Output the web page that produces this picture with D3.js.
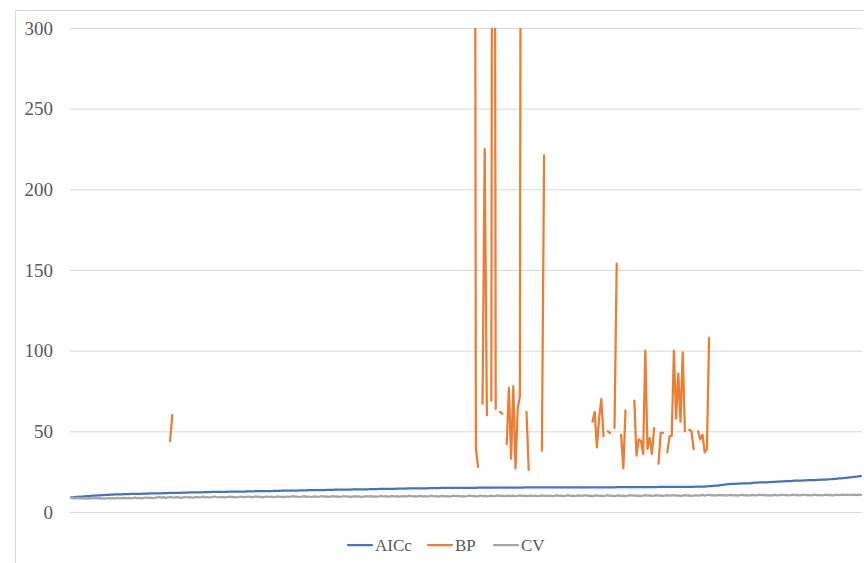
<!DOCTYPE html>
<html>
<head>
<meta charset="utf-8">
<script src="https://cdn.jsdelivr.net/npm/d3@7"></script>
<style>
  html, body { margin: 0; padding: 0; background: #ffffff; }
  svg { display: block; }
</style>
</head>
<body>
<svg id="chart" width="864" height="563"></svg>
<script>
// ---------------- DATA ----------------
const seriesNames = ["AICc", "BP", "CV"];
const seriesColors = ["#4472C4", "#ED7D31", "#A5A5A5"];
const yTicks = [0, 50, 100, 150, 200, 250, 300];
const pointCount = 360;

const aicc = [
  9.0, 9.1, 9.3, 9.4, 9.5, 9.6, 9.7, 9.8, 9.9, 10.0, 10.1, 10.2, 10.3, 10.3, 10.4, 10.5, 10.6, 10.6, 10.7, 10.8,
  10.9, 10.9, 11.0, 11.0, 11.1, 11.1, 11.1, 11.2, 11.2, 11.2, 11.3, 11.3, 11.3, 11.4, 11.4, 11.4, 11.5, 11.5, 11.5, 11.6,
  11.6, 11.6, 11.7, 11.7, 11.7, 11.8, 11.8, 11.8, 11.9, 11.9, 11.9, 12.0, 12.0, 12.0, 12.1, 12.1, 12.1, 12.2, 12.2, 12.2,
  12.3, 12.3, 12.3, 12.3, 12.4, 12.4, 12.4, 12.4, 12.5, 12.5, 12.5, 12.5, 12.6, 12.6, 12.6, 12.6, 12.7, 12.7, 12.7, 12.7,
  12.8, 12.8, 12.8, 12.8, 12.9, 12.9, 12.9, 12.9, 13.0, 13.0, 13.0, 13.0, 13.1, 13.1, 13.1, 13.1, 13.2, 13.2, 13.2, 13.2,
  13.3, 13.3, 13.3, 13.3, 13.4, 13.4, 13.4, 13.4, 13.5, 13.5, 13.5, 13.5, 13.6, 13.6, 13.6, 13.6, 13.7, 13.7, 13.7, 13.7,
  13.8, 13.8, 13.8, 13.8, 13.9, 13.9, 13.9, 13.9, 14.0, 14.0, 14.0, 14.0, 14.1, 14.1, 14.1, 14.1, 14.2, 14.2, 14.2, 14.2,
  14.3, 14.3, 14.3, 14.3, 14.4, 14.4, 14.4, 14.4, 14.5, 14.5, 14.5, 14.5, 14.5, 14.6, 14.6, 14.6, 14.6, 14.6, 14.7, 14.7,
  14.7, 14.7, 14.7, 14.8, 14.8, 14.8, 14.8, 14.8, 14.9, 14.9, 14.9, 14.9, 14.9, 14.9, 15.0, 15.0, 15.0, 15.0, 15.0, 15.0,
  15.0, 15.0, 15.0, 15.0, 15.0, 15.1, 15.1, 15.1, 15.1, 15.1, 15.1, 15.1, 15.1, 15.1, 15.1, 15.1, 15.1, 15.1, 15.1, 15.1,
  15.1, 15.1, 15.1, 15.1, 15.1, 15.1, 15.2, 15.2, 15.2, 15.2, 15.2, 15.2, 15.2, 15.2, 15.2, 15.2, 15.2, 15.2, 15.2, 15.2,
  15.2, 15.2, 15.2, 15.2, 15.2, 15.3, 15.3, 15.3, 15.3, 15.3, 15.3, 15.3, 15.3, 15.3, 15.3, 15.3, 15.3, 15.3, 15.3, 15.3,
  15.3, 15.3, 15.3, 15.3, 15.3, 15.3, 15.3, 15.3, 15.4, 15.4, 15.4, 15.4, 15.4, 15.4, 15.4, 15.4, 15.4, 15.4, 15.4, 15.4,
  15.4, 15.4, 15.4, 15.4, 15.4, 15.4, 15.4, 15.5, 15.5, 15.5, 15.5, 15.5, 15.5, 15.5, 15.5, 15.5, 15.5, 15.5, 15.5, 15.6,
  15.6, 15.6, 15.6, 15.6, 15.7, 15.7, 15.7, 15.8, 15.8, 15.9, 16.0, 16.1, 16.2, 16.3, 16.4, 16.6, 16.8, 16.9, 17.1, 17.3,
  17.4, 17.5, 17.5, 17.6, 17.6, 17.7, 17.7, 17.7, 17.8, 17.9, 18.1, 18.2, 18.2, 18.3, 18.3, 18.4, 18.4, 18.5, 18.5, 18.6,
  18.7, 18.8, 18.9, 19.0, 19.0, 19.1, 19.2, 19.2, 19.3, 19.4, 19.4, 19.5, 19.5, 19.6, 19.6, 19.7, 19.7, 19.8, 19.8, 19.9,
  19.9, 20.0, 20.0, 20.1, 20.2, 20.3, 20.4, 20.5, 20.6, 20.8, 20.9, 21.0, 21.2, 21.3, 21.5, 21.6, 21.8, 21.9, 22.1, 22.3
];

const cv = [
  8.8, 8.6, 8.5, 8.7, 8.4, 8.6, 8.5, 8.3, 8.6, 8.4, 8.5, 8.7, 8.4, 8.6, 8.5, 8.3, 8.5, 8.6, 8.4, 8.6,
  8.5, 8.7, 8.4, 8.6, 8.8, 8.5, 8.7, 8.4, 8.6, 8.9, 8.6, 8.8, 8.5, 8.7, 9.0, 8.7, 8.9, 8.6, 8.8, 9.1,
  9.3, 8.9, 9.2, 8.8, 9.0, 9.4, 9.1, 8.9, 9.2, 9.0, 8.8, 9.1, 9.3, 9.0, 9.2, 8.9, 9.1, 9.4, 9.0, 9.2,
  9.5, 9.1, 9.3, 9.0, 9.2, 9.6, 9.3, 9.1, 9.4, 9.2, 9.0, 9.3, 9.5, 9.2, 9.4, 9.1, 9.3, 9.6, 9.2, 9.4,
  9.3, 9.6, 9.2, 9.4, 9.7, 9.3, 9.5, 9.1, 9.4, 9.6, 9.3, 9.5, 9.2, 9.4, 9.7, 9.3, 9.5, 9.2, 9.6, 9.4,
  9.5, 9.8, 9.4, 9.6, 9.3, 9.5, 9.8, 9.4, 9.6, 9.3, 9.5, 9.7, 9.4, 9.6, 9.9, 9.5, 9.7, 9.4, 9.6, 9.8,
  9.5, 9.7, 9.4, 9.6, 9.9, 9.5, 9.7, 9.4, 9.6, 9.8, 9.5, 9.7, 9.4, 9.6, 9.9, 9.6, 9.8, 9.5, 9.7, 9.5,
  9.7, 10.0, 9.6, 9.8, 9.5, 9.7, 10.0, 9.6, 9.8, 9.5, 9.7, 9.9, 9.6, 9.8, 10.1, 9.7, 9.9, 9.6, 9.8, 10.0,
  9.7, 9.9, 9.6, 9.8, 10.1, 9.7, 9.9, 9.6, 9.8, 10.0, 9.7, 9.9, 9.6, 9.8, 10.1, 9.8, 10.0, 9.7, 9.9, 9.7,
  9.9, 10.2, 9.8, 10.0, 9.7, 9.9, 10.2, 9.8, 10.0, 9.7, 9.9, 10.1, 9.8, 10.0, 10.3, 9.9, 10.1, 9.8, 10.0, 10.2,
  9.9, 10.1, 9.8, 10.0, 10.3, 9.9, 10.1, 9.8, 10.0, 10.2, 9.9, 10.1, 9.8, 10.0, 10.3, 10.0, 10.2, 9.9, 10.1, 9.9,
  10.1, 10.3, 10.0, 10.2, 9.9, 10.1, 10.4, 10.0, 10.2, 9.9, 10.1, 10.3, 10.0, 10.2, 10.4, 10.0, 10.2, 9.9, 10.1, 10.3,
  10.0, 10.2, 9.9, 10.1, 10.4, 10.0, 10.2, 9.9, 10.1, 10.3, 10.0, 10.2, 9.9, 10.1, 10.4, 10.1, 10.3, 10.0, 10.2, 10.0,
  10.2, 10.4, 10.1, 10.3, 10.0, 10.2, 10.5, 10.1, 10.3, 10.0, 10.2, 10.4, 10.1, 10.3, 10.5, 10.1, 10.3, 10.0, 10.2, 10.4,
  10.1, 10.3, 10.0, 10.2, 10.5, 10.1, 10.3, 10.6, 10.2, 10.4, 10.7, 10.3, 10.5, 10.2, 10.4, 10.6, 10.3, 10.5, 10.2, 10.4,
  10.6, 10.3, 10.5, 10.2, 10.4, 10.7, 10.3, 10.5, 10.2, 10.4, 10.6, 10.3, 10.5, 10.7, 10.4, 10.6, 10.3, 10.5, 10.2, 10.4,
  10.6, 10.3, 10.5, 10.7, 10.4, 10.6, 10.3, 10.5, 10.8, 10.4, 10.6, 10.3, 10.5, 10.7, 10.4, 10.6, 10.3, 10.5, 10.7, 10.4,
  10.6, 10.3, 10.5, 10.8, 10.4, 10.6, 10.3, 10.5, 10.7, 10.4, 10.6, 10.8, 10.5, 10.7, 10.4, 10.6, 10.8, 10.5, 10.7, 10.6
];

// BP has gaps: runs of consecutive points, given by start index and values (off-scale peaks > 300)
const bpRunStarts = [45, 183, 187, 191, 195, 198, 207, 214, 237, 244, 247, 250, 256, 267, 271, 281, 285];
const bpRunValues = [
  [44, 60],
  [1000, 39, 28],
  [67, 225, 60],
  [69, 1000, 64],
  [62, 61],
  [42, 77, 33, 78, 27, 64, 72, 1000],
  [62, 26],
  [38, 221],
  [56, 62, 40, 58, 70, 47],
  [50, 49],
  [52, 154],
  [48, 27, 63],
  [69, 35, 45, 44, 36, 100, 39, 46, 36, 52],
  [30, 49, 49],
  [37, 47, 47, 100, 58, 86, 56, 99, 50],
  [51, 50, 39],
  [50, 45, 48, 37, 39, 108]
];

// ---------------- BUILD ----------------
(function () {
  const bp = new Array(pointCount).fill(null);
  bpRunStarts.forEach((s, k) => bpRunValues[k].forEach((v, j) => { bp[s + j] = v; }));
  const seriesData = [aicc, bp, cv];

  const svg = d3.select("#chart");
  const pLeft = 70, pRight = 862, pTop = 28, pBottom = 512;

  // chart border
  svg.append("rect")
    .attr("x", 15.5).attr("y", 10.5)
    .attr("width", 900).attr("height", 600)
    .attr("fill", "#fff").attr("stroke", "#D9D9D9").attr("stroke-width", 1);

  const x = d3.scaleLinear().domain([-0.5, pointCount - 0.5]).range([pLeft, pRight]);
  const y = d3.scaleLinear().domain([0, 300]).range([pBottom, pTop]);

  // gridlines
  const grid = svg.append("g")
    .attr("transform", `translate(${pLeft},0)`)
    .call(d3.axisLeft(y).tickValues(yTicks).tickSize(-(pRight - pLeft)).tickFormat(""));
  grid.select(".domain").remove();
  grid.selectAll(".tick line").attr("stroke", "#D9D9D9").attr("stroke-width", 1);

  // y axis labels
  const yAxis = svg.append("g")
    .attr("transform", `translate(${pLeft - 17},0)`)
    .call(d3.axisLeft(y).tickValues(yTicks).tickSize(0).tickPadding(0));
  yAxis.select(".domain").remove();
  yAxis.selectAll("text")
    .attr("fill", "#595959")
    .style("font-family", "'Liberation Serif', 'DejaVu Serif', serif")
    .style("font-size", "19px");

  // clip
  svg.append("defs").append("clipPath").attr("id", "plotClip")
    .append("rect").attr("x", pLeft).attr("y", pTop).attr("width", pRight - pLeft).attr("height", pBottom - pTop);

  const line = d3.line()
    .defined(d => d != null)
    .x((d, i) => x(i))
    .y(d => y(d));

  const plot = svg.append("g").attr("clip-path", "url(#plotClip)");
  [0, 1, 2].forEach(k => {
    plot.append("path")
      .datum(seriesData[k])
      .attr("fill", "none")
      .attr("stroke", seriesColors[k])
      .attr("stroke-width", 2.25)
      .attr("stroke-linejoin", "round")
      .attr("stroke-linecap", "round")
      .attr("d", line);
  });

  // legend
  const legendX = [348, 428, 494];
  const legendW = 24;
  const legend = svg.append("g");
  seriesNames.forEach((name, k) => {
    const g = legend.append("g").attr("transform", `translate(${legendX[k]},545)`);
    g.append("line").attr("x1", 0).attr("x2", legendW).attr("y1", 0).attr("y2", 0)
      .attr("stroke", seriesColors[k]).attr("stroke-width", 2.25).attr("stroke-linecap", "round");
    g.append("text").attr("x", legendW + 3).attr("y", 0).attr("dy", "0.35em")
      .attr("fill", "#595959")
      .style("font-family", "'Liberation Serif', 'DejaVu Serif', serif")
      .style("font-size", "17px")
      .text(name);
  });
})();
</script>
</body>
</html>
